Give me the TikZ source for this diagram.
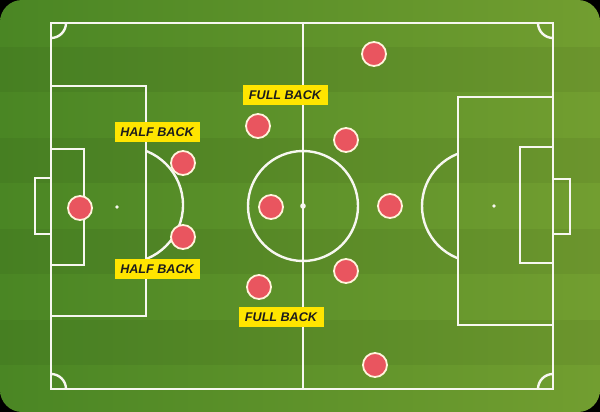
\documentclass[tikz,border=0pt]{standalone}
\usepackage{fontspec}
\setmainfont{Liberation Sans}
\definecolor{grassDark}{RGB}{74,134,36}
\definecolor{grassLight}{RGB}{114,158,48}
\definecolor{lineWhite}{HTML}{F7F7F0}
\definecolor{playerRed}{HTML}{E9555F}
\definecolor{playerRim}{HTML}{FFF4DC}
\definecolor{tagYellow}{HTML}{FFE500}
\definecolor{tagText}{HTML}{1C1C1C}

\begin{document}
\begin{tikzpicture}[x=1pt, y=-1pt,
    pitchline/.style={draw=lineWhite, line width=2.4pt},
    player/.style={circle, draw=playerRim, line width=1.8pt, fill=playerRed, minimum size=24pt, inner sep=0pt},
    tag/.style={fill=tagYellow, text=tagText, font=\fontsize{12.6}{12.6}\selectfont\bfseries\itshape, minimum width=85pt, minimum height=20pt, inner sep=0pt}]
  \useasboundingbox (0,0) rectangle (600,412);
  % grass
  \fill[black] (0,0) rectangle (600,412);
  \shade[left color=grassDark, right color=grassLight, rounded corners=22pt] (0,0) rectangle (600,412);
  \foreach \y in {47,138,229,320}
    \fill[black, opacity=0.05] (0,\y) rectangle (600,\y+45);

  % pitch markings
  \draw[pitchline] (51,23) rectangle (553,389);
  \draw[pitchline] (303,23) -- (303,389);
  \draw[pitchline] (303,206) circle[radius=55];
  \draw[pitchline] (51,86) rectangle (146,316);
  \draw[pitchline] (51,149) rectangle (84,265);
  \draw[pitchline] (35,178) rectangle (51,234);
  \draw[pitchline] (458,97) rectangle (553,325);
  \draw[pitchline] (520,147) rectangle (553,263);
  \draw[pitchline] (553,179) rectangle (570,234);
  \begin{scope}
    \clip (146,0) rectangle (303,412);
    \draw[pitchline] (125,205) circle[radius=58];
  \end{scope}
  \begin{scope}
    \clip (300,0) rectangle (458,412);
    \draw[pitchline] (478,206) circle[radius=56];
  \end{scope}
  \begin{scope}
    \clip (51,23) rectangle (553,389);
    \foreach \cx/\cy in {51/23, 553/23, 51/389, 553/389}
      \draw[pitchline] (\cx,\cy) circle[radius=15];
  \end{scope}
  \fill[lineWhite] (303,206) circle[radius=2.8];
  \fill[lineWhite] (117,207) circle[radius=1.8];
  \fill[lineWhite] (494,206) circle[radius=1.8];

  % players
  \node[player] (keeper) at (80,208) {};
  \node[player] (halfTop) at (183,163) {};
  \node[player] (halfBot) at (183,237) {};
  \node[player] (fullTop) at (258,126) {};
  \node[player] (centre) at (271,207) {};
  \node[player] (fullBot) at (259,287) {};
  \node[player] (wingTop) at (374,54) {};
  \node[player] (innerTop) at (346,140) {};
  \node[player] (striker) at (390,206) {};
  \node[player] (innerBot) at (346,271) {};
  \node[player] (wingBot) at (375,365) {};

  % labels
  \node[tag] (halfTopTag) at (157,132) {HALF BACK};
  \node[tag] (halfBotTag) at (157,269) {HALF BACK};
  \node[tag] (fullTopTag) at (285,95) {FULL BACK};
  \node[tag] (fullBotTag) at (281,317) {FULL BACK};
\end{tikzpicture}
\end{document}
